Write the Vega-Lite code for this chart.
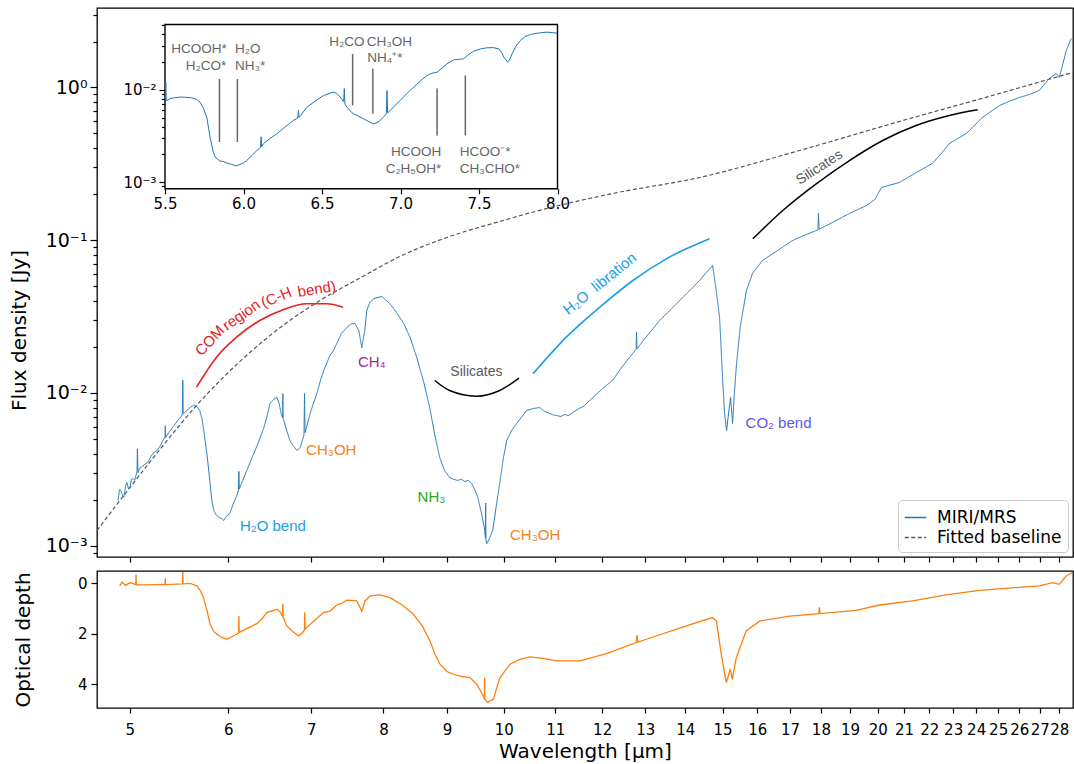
{
"$schema":"https://vega.github.io/schema/vega-lite/v6.json",
"padding":{"left":8,"top":7,"right":0,"bottom":0},
"spacing":4,
"config":{"view":{"stroke":"#000","strokeWidth":1.3},"axis":{"labelFont":"DejaVu Sans","titleFont":"DejaVu Sans","titleFontWeight":"normal","labelColor":"#000","titleColor":"#000","tickColor":"#000","tickWidth":1.2,"grid":false,"domain":false},"text":{"font":"Liberation Sans"}},
"resolve":{"scale":{"color":"independent","strokeDash":"independent"},"legend":{"color":"independent","strokeDash":"independent"}},
"vconcat":[
{"width":976,"height":549,
"resolve":{"scale":{"x":"independent","y":"independent"}},
"layer":[
{"resolve":{"axis":{"y":"independent"}},
"layer":[
{"encoding":{
"x":{"field":"w","type":"quantitative","scale":{"type":"log","domain":[4.705,28.72],"nice":false},"axis":{"orient":"bottom","values":[5,6,7,8,9,10,11,12,13,14,15,16,17,18,19,20,21,22,23,24,25,26,27,28],"labels":false,"tickSize":5,"title":null}},
"y":{"field":"f","type":"quantitative","scale":{"type":"log","domain":[0.000842,3.316],"nice":false},"axis":{"orient":"left","values":[0.001,0.01,0.1,1],"labelExpr":"datum.value >= 0.99 ? '10⁰' : datum.value >= 0.099 ? '10⁻¹' : datum.value >= 0.0099 ? '10⁻²' : '10⁻³'","tickSize":7,"labelPadding":3,"labelFontSize":19,"title":"Flux density [Jy]","titleFontSize":20,"titlePadding":13,"minExtent":55,"maxExtent":55,"titleY":322}}},
"layer":[
{"data":{"values":[{"w":4.705,"f":0.001256},{"w":5.001,"f":0.002401},{"w":5.287,"f":0.004259},{"w":5.63,"f":0.0079},{"w":6.246,"f":0.01839},{"w":6.641,"f":0.02763},{"w":7.071,"f":0.03908},{"w":7.7,"f":0.05785},{"w":8.247,"f":0.0782},{"w":9.046,"f":0.1057},{"w":9.924,"f":0.1326},{"w":10.828,"f":0.1613},{"w":12.237,"f":0.2022},{"w":14.375,"f":0.2574},{"w":17.301,"f":0.3868},{"w":20.818,"f":0.5989},{"w":25.058,"f":0.9136},{"w":28.69,"f":1.254}]},
"mark":{"type":"line","strokeWidth":1.2,"interpolate":"monotone"},
"encoding":{"color":{"datum":"Fitted baseline","type":"nominal","scale":{"domain":["MIRI/MRS","Fitted baseline"],"range":["#1f77b4","#555555"]},"legend":{"title":null,"orient":"bottom-right","offset":5,"labelFont":"DejaVu Sans","labelFontSize":17,"labelColor":"#000","symbolType":"stroke","symbolSize":460,"symbolStrokeWidth":1.3,"strokeColor":"#cccccc","fillColor":"#ffffff","padding":6,"cornerRadius":4,"rowPadding":0,"labelOffset":10}},
"strokeDash":{"datum":"Fitted baseline","type":"nominal","scale":{"domain":["MIRI/MRS","Fitted baseline"],"range":[[1,0],[4,2.5]]},"legend":{"title":null,"orient":"bottom-right","offset":5,"labelFont":"DejaVu Sans","labelFontSize":17,"labelColor":"#000","symbolType":"stroke","symbolSize":460,"symbolStrokeWidth":1.3,"strokeColor":"#cccccc","fillColor":"#ffffff","padding":6,"cornerRadius":4,"rowPadding":0,"labelOffset":10}}}},
{"data":{"values":[{"w":4.892,"f":0.00197},{"w":4.905,"f":0.00232},{"w":4.918,"f":0.0023},{"w":4.932,"f":0.00215},{"w":4.945,"f":0.00207},{"w":4.96,"f":0.00245},{"w":4.973,"f":0.00259},{"w":4.987,"f":0.00236},{"w":5.001,"f":0.0024},{"w":5.015,"f":0.00272},{"w":5.029,"f":0.00275},{"w":5.047,"f":0.00268},{"w":5.067,"f":0.00306},{"w":5.071,"f":0.0043},{"w":5.076,"f":0.003},{"w":5.094,"f":0.00322},{"w":5.113,"f":0.0033},{"w":5.14,"f":0.0034},{"w":5.17,"f":0.0035},{"w":5.2,"f":0.00385},{"w":5.228,"f":0.00407},{"w":5.26,"f":0.0042},{"w":5.287,"f":0.00446},{"w":5.31,"f":0.0048},{"w":5.336,"f":0.0051},{"w":5.34,"f":0.0061},{"w":5.344,"f":0.0051},{"w":5.375,"f":0.0055},{"w":5.405,"f":0.00585},{"w":5.435,"f":0.0062},{"w":5.465,"f":0.0066},{"w":5.49,"f":0.0069},{"w":5.511,"f":0.00722},{"w":5.516,"f":0.0121},{"w":5.521,"f":0.0073},{"w":5.568,"f":0.00778},{"w":5.6,"f":0.0081},{"w":5.63,"f":0.00827},{"w":5.665,"f":0.0081},{"w":5.692,"f":0.00767},{"w":5.715,"f":0.0068},{"w":5.735,"f":0.00567},{"w":5.77,"f":0.0039},{"w":5.799,"f":0.00267},{"w":5.82,"f":0.002},{"w":5.842,"f":0.0017},{"w":5.865,"f":0.0016},{"w":5.886,"f":0.00155},{"w":5.905,"f":0.00152},{"w":5.929,"f":0.0015},{"w":5.952,"f":0.00146},{"w":5.984,"f":0.00157},{"w":6.018,"f":0.00162},{"w":6.06,"f":0.0019},{"w":6.1,"f":0.00215},{"w":6.115,"f":0.0023},{"w":6.12,"f":0.00306},{"w":6.125,"f":0.00235},{"w":6.131,"f":0.0024},{"w":6.21,"f":0.0031},{"w":6.292,"f":0.00401},{"w":6.35,"f":0.0048},{"w":6.411,"f":0.00593},{"w":6.45,"f":0.0071},{"w":6.483,"f":0.00853},{"w":6.53,"f":0.0091},{"w":6.568,"f":0.00933},{"w":6.595,"f":0.0085},{"w":6.616,"f":0.00744},{"w":6.635,"f":0.0069},{"w":6.64,"f":0.0099},{"w":6.645,"f":0.0067},{"w":6.653,"f":0.00659},{"w":6.69,"f":0.0056},{"w":6.727,"f":0.00488},{"w":6.77,"f":0.0045},{"w":6.815,"f":0.0042},{"w":6.858,"f":0.00439},{"w":6.905,"f":0.0053},{"w":6.912,"f":0.0099},{"w":6.919,"f":0.0055},{"w":6.99,"f":0.0075},{"w":7.071,"f":0.00991},{"w":7.12,"f":0.0121},{"w":7.163,"f":0.014},{"w":7.2,"f":0.0155},{"w":7.244,"f":0.01758},{"w":7.29,"f":0.0188},{"w":7.338,"f":0.0211},{"w":7.4,"f":0.0245},{"w":7.475,"f":0.0268},{"w":7.53,"f":0.0282},{"w":7.587,"f":0.0285},{"w":7.644,"f":0.0256},{"w":7.686,"f":0.0198},{"w":7.729,"f":0.0256},{"w":7.758,"f":0.0347},{"w":7.8,"f":0.039},{"w":7.859,"f":0.0415},{"w":7.976,"f":0.0428},{"w":8.095,"f":0.0385},{"w":8.2,"f":0.0335},{"w":8.308,"f":0.0285},{"w":8.41,"f":0.0228},{"w":8.51,"f":0.0171},{"w":8.62,"f":0.0118},{"w":8.717,"f":0.00802},{"w":8.8,"f":0.0053},{"w":8.88,"f":0.00378},{"w":8.96,"f":0.0031},{"w":9.046,"f":0.00279},{"w":9.11,"f":0.00272},{"w":9.182,"f":0.00267},{"w":9.24,"f":0.00272},{"w":9.301,"f":0.00263},{"w":9.36,"f":0.00268},{"w":9.423,"f":0.00255},{"w":9.48,"f":0.0023},{"w":9.528,"f":0.00207},{"w":9.6,"f":0.0016},{"w":9.653,"f":0.00126},{"w":9.665,"f":0.00112},{"w":9.67,"f":0.0019},{"w":9.675,"f":0.00108},{"w":9.689,"f":0.00103},{"w":9.74,"f":0.00112},{"w":9.797,"f":0.00126},{"w":9.86,"f":0.0018},{"w":9.924,"f":0.00255},{"w":9.99,"f":0.0037},{"w":10.054,"f":0.00488},{"w":10.15,"f":0.0057},{"w":10.242,"f":0.00631},{"w":10.433,"f":0.00767},{"w":10.56,"f":0.0079},{"w":10.688,"f":0.00802},{"w":10.77,"f":0.0076},{"w":10.849,"f":0.00744},{"w":10.94,"f":0.0072},{"w":11.03,"f":0.00711},{"w":11.11,"f":0.0070},{"w":11.194,"f":0.00722},{"w":11.28,"f":0.0071},{"w":11.361,"f":0.00744},{"w":11.5,"f":0.0079},{"w":11.6,"f":0.0082},{"w":11.725,"f":0.00891},{"w":12.013,"f":0.01069},{"w":12.237,"f":0.0121},{"w":12.45,"f":0.0148},{"w":12.698,"f":0.0181},{"w":12.78,"f":0.0193},{"w":12.79,"f":0.025},{"w":12.8,"f":0.0195},{"w":13.05,"f":0.0238},{"w":13.349,"f":0.0298},{"w":13.63,"f":0.0352},{"w":13.93,"f":0.0421},{"w":14.15,"f":0.0478},{"w":14.375,"f":0.0545},{"w":14.55,"f":0.0612},{"w":14.725,"f":0.0683},{"w":14.8,"f":0.052},{"w":14.918,"f":0.0312},{"w":15.0,"f":0.0125},{"w":15.057,"f":0.00733},{"w":15.112,"f":0.00567},{"w":15.17,"f":0.0074},{"w":15.225,"f":0.00933},{"w":15.281,"f":0.00631},{"w":15.33,"f":0.0098},{"w":15.395,"f":0.0156},{"w":15.5,"f":0.027},{"w":15.68,"f":0.0469},{"w":15.856,"f":0.0605},{"w":16.152,"f":0.0736},{"w":16.61,"f":0.0856},{"w":17.077,"f":0.0995},{"w":17.45,"f":0.1075},{"w":17.853,"f":0.1158},{"w":17.9,"f":0.117},{"w":17.92,"f":0.15},{"w":17.94,"f":0.118},{"w":18.4,"f":0.131},{"w":18.977,"f":0.1496},{"w":19.584,"f":0.1687},{"w":19.9,"f":0.185},{"w":20.135,"f":0.2213},{"w":20.818,"f":0.2388},{"w":21.483,"f":0.2775},{"w":22.13,"f":0.318},{"w":22.5,"f":0.37},{"w":22.839,"f":0.43},{"w":23.57,"f":0.4996},{"w":24.28,"f":0.636},{"w":25.058,"f":0.762},{"w":25.5,"f":0.81},{"w":25.996,"f":0.86},{"w":26.5,"f":0.9},{"w":26.978,"f":0.956},{"w":27.483,"f":1.145},{"w":27.843,"f":1.235},{"w":27.998,"f":1.163},{"w":28.2,"f":1.45},{"w":28.363,"f":1.747},{"w":28.627,"f":2.094}]},
"mark":{"type":"line","strokeWidth":1},
"encoding":{"color":{"datum":"MIRI/MRS","type":"nominal","scale":{"domain":["MIRI/MRS","Fitted baseline"],"range":["#1f77b4","#555555"]},"legend":{"title":null,"orient":"bottom-right","offset":5,"labelFont":"DejaVu Sans","labelFontSize":17,"labelColor":"#000","symbolType":"stroke","symbolSize":460,"symbolStrokeWidth":1.3,"strokeColor":"#cccccc","fillColor":"#ffffff","padding":6,"cornerRadius":4,"rowPadding":0,"labelOffset":10}},
"strokeDash":{"datum":"MIRI/MRS","type":"nominal","scale":{"domain":["MIRI/MRS","Fitted baseline"],"range":[[1,0],[4,2.5]]},"legend":{"title":null,"orient":"bottom-right","offset":5,"labelFont":"DejaVu Sans","labelFontSize":17,"labelColor":"#000","symbolType":"stroke","symbolSize":460,"symbolStrokeWidth":1.3,"strokeColor":"#cccccc","fillColor":"#ffffff","padding":6,"cornerRadius":4,"rowPadding":0,"labelOffset":10}}}},
{"data":{"values":[{"w":5.658,"f":0.0109},{"w":5.872,"f":0.01713},{"w":6.094,"f":0.02317},{"w":6.362,"f":0.02979},{"w":6.643,"f":0.03501},{"w":6.938,"f":0.03834},{"w":7.2,"f":0.03834},{"w":7.424,"f":0.0364}]},
"mark":{"type":"line","color":"#e8201e","strokeWidth":1.6,"interpolate":"monotone"}},
{"data":{"values":[{"w":8.798,"f":0.01206},{"w":9.046,"f":0.01037},{"w":9.505,"f":0.00952},{"w":9.924,"f":0.01037},{"w":10.286,"f":0.01248}]},
"mark":{"type":"line","color":"#000","strokeWidth":1.5,"interpolate":"monotone"}},
{"data":{"values":[{"w":10.556,"f":0.01334},{"w":11.229,"f":0.02317},{"w":11.947,"f":0.0364},{"w":12.705,"f":0.05445},{"w":13.516,"f":0.0755},{"w":14.644,"f":0.1021}]},
"mark":{"type":"line","color":"#1a9ee6","strokeWidth":1.6,"interpolate":"monotone"}},
{"data":{"values":[{"w":15.865,"f":0.1021},{"w":16.771,"f":0.1565},{"w":17.843,"f":0.2341},{"w":18.977,"f":0.3325},{"w":20.184,"f":0.4497},{"w":21.471,"f":0.5639},{"w":22.839,"f":0.6557},{"w":24.07,"f":0.7145}]},
"mark":{"type":"line","color":"#000","strokeWidth":1.5,"interpolate":"monotone"}},
{"data":{"values":[{"w":5.799,"f":0.022,"t":"COM"}]},"mark":{"type":"text","angle":313,"color":"#e8201e","fontSize":15},"encoding":{"text":{"field":"t"}}},
{"data":{"values":[{"w":6.148,"f":0.0324,"t":"region"}]},"mark":{"type":"text","angle":325,"color":"#e8201e","fontSize":15},"encoding":{"text":{"field":"t"}}},
{"data":{"values":[{"w":6.56,"f":0.04233,"t":"(C-H"}]},"mark":{"type":"text","angle":338,"color":"#e8201e","fontSize":15},"encoding":{"text":{"field":"t"}}},
{"data":{"values":[{"w":7.071,"f":0.04791,"t":"bend)"}]},"mark":{"type":"text","angle":351,"color":"#e8201e","fontSize":15},"encoding":{"text":{"field":"t"}}},
{"data":{"values":[{"w":11.947,"f":0.052,"t":"H₂O\u00a0\u00a0libration"}]},"mark":{"type":"text","angle":321,"color":"#1a9ee6","fontSize":15},"encoding":{"text":{"field":"t"}}},
{"data":{"values":[{"w":17.952,"f":0.299,"t":"Silicates"}]},"mark":{"type":"text","angle":327,"color":"#595959","fontSize":14},"encoding":{"text":{"field":"t"}}},
{"data":{"values":[{"w":9.505,"f":0.0138,"t":"Silicates"}]},"mark":{"type":"text","color":"#595959","fontSize":14},"encoding":{"text":{"field":"t"}}},
{"data":{"values":[{"w":6.519,"f":0.00134,"t":"H₂O bend"}]},"mark":{"type":"text","color":"#1a9ee6","fontSize":15},"encoding":{"text":{"field":"t"}}},
{"data":{"values":[{"w":7.263,"f":0.0042,"t":"CH₃OH"},{"w":10.599,"f":0.00118,"t":"CH₃OH"}]},"mark":{"type":"text","color":"#f58220","fontSize":15},"encoding":{"text":{"field":"t"}}},
{"data":{"values":[{"w":7.83,"f":0.0159,"t":"CH₄"}]},"mark":{"type":"text","color":"#982e99","fontSize":15},"encoding":{"text":{"field":"t"}}},
{"data":{"values":[{"w":8.745,"f":0.00207,"t":"NH₃"}]},"mark":{"type":"text","color":"#22aa22","fontSize":15},"encoding":{"text":{"field":"t"}}},
{"data":{"values":[{"w":16.64,"f":0.00635,"t":"CO₂ bend"}]},"mark":{"type":"text","color":"#5a5ae6","fontSize":15},"encoding":{"text":{"field":"t"}}}
]},
{"data":{"values":[{"f":0.0024},{"f":0.1}]},
"mark":{"type":"point","opacity":0},
"encoding":{
"y":{"field":"f","type":"quantitative","scale":{"type":"log","domain":[0.000842,3.316],"nice":false},"axis":{"orient":"left","values":[0.0009,0.002,0.003,0.004,0.005,0.006,0.007,0.008,0.009,0.02,0.03,0.04,0.05,0.06,0.07,0.08,0.09,0.2,0.3,0.4,0.5,0.6,0.7,0.8,0.9,2,3],"labels":false,"tickSize":4,"title":null}}}}
]},
{"resolve":{"axis":{"y":"independent"}},
"layer":[
{"encoding":{
"x":{"field":"w","type":"quantitative","scale":{"domain":[5.5,8.0],"range":[68,460.5],"nice":false,"zero":false},"axis":{"orient":"bottom","offset":-368.2,"values":[5.5,6,6.5,7,7.5,8],"format":".1f","tickSize":5,"labelFontSize":15,"labelPadding":3,"labelFlush":false,"labelOverlap":false,"title":null}},
"y":{"field":"f","type":"quantitative","scale":{"type":"log","domain":[0.000848,0.0509],"range":[180.8,16.5],"nice":false},"axis":{"orient":"left","offset":-68,"values":[0.001,0.01],"labelExpr":"datum.value >= 0.0099 ? '10⁻²' : '10⁻³'","tickSize":6,"labelFontSize":15,"labelPadding":3,"title":null}}},
"layer":[
{"data":{"values":[{"w":5.5,"w2":8.0,"f":0.000848,"f2":0.0509}]},"mark":{"type":"rect","fill":"#ffffff","stroke":"#000","strokeWidth":1.4},"encoding":{"x2":{"field":"w2"},"y2":{"field":"f2"}}},
{"data":{"values":[{"w":5.502,"f":0.0078},{"w":5.505,"f":0.0121},{"w":5.508,"f":0.0076},{"w":5.532,"f":0.008},{"w":5.56,"f":0.0082},{"w":5.596,"f":0.00834},{"w":5.63,"f":0.0083},{"w":5.67,"f":0.00819},{"w":5.7,"f":0.0079},{"w":5.723,"f":0.00736},{"w":5.745,"f":0.0063},{"w":5.766,"f":0.00506},{"w":5.787,"f":0.00308},{"w":5.805,"f":0.0022},{"w":5.819,"f":0.00187},{"w":5.851,"f":0.00169},{"w":5.87,"f":0.00168},{"w":5.89,"f":0.00162},{"w":5.91,"f":0.00158},{"w":5.925,"f":0.00156},{"w":5.95,"f":0.0015},{"w":5.978,"f":0.00156},{"w":6.0,"f":0.00162},{"w":6.021,"f":0.00172},{"w":6.05,"f":0.00192},{"w":6.085,"f":0.0022},{"w":6.108,"f":0.00238},{"w":6.112,"f":0.0031},{"w":6.116,"f":0.00242},{"w":6.127,"f":0.00261},{"w":6.17,"f":0.00298},{"w":6.212,"f":0.00334},{"w":6.26,"f":0.0039},{"w":6.318,"f":0.00466},{"w":6.346,"f":0.00495},{"w":6.35,"f":0.006},{"w":6.354,"f":0.005},{"w":6.404,"f":0.00649},{"w":6.457,"f":0.00754},{"w":6.51,"f":0.00868},{"w":6.545,"f":0.0091},{"w":6.574,"f":0.00944},{"w":6.595,"f":0.0091},{"w":6.616,"f":0.00834},{"w":6.638,"f":0.0074},{"w":6.642,"f":0.0103},{"w":6.646,"f":0.007},{"w":6.659,"f":0.00649},{"w":6.68,"f":0.0059},{"w":6.701,"f":0.00549},{"w":6.73,"f":0.0052},{"w":6.765,"f":0.00485},{"w":6.8,"f":0.0045},{"w":6.829,"f":0.00428},{"w":6.85,"f":0.0044},{"w":6.871,"f":0.00466},{"w":6.91,"f":0.0055},{"w":6.914,"f":0.0098},{"w":6.918,"f":0.00565},{"w":6.935,"f":0.00597},{"w":6.965,"f":0.0068},{"w":6.999,"f":0.00767},{"w":7.04,"f":0.0091},{"w":7.084,"f":0.0107},{"w":7.13,"f":0.0126},{"w":7.169,"f":0.0143},{"w":7.2,"f":0.0151},{"w":7.233,"f":0.0155},{"w":7.265,"f":0.0172},{"w":7.296,"f":0.0191},{"w":7.339,"f":0.0211},{"w":7.37,"f":0.0213},{"w":7.403,"f":0.0217},{"w":7.43,"f":0.0238},{"w":7.466,"f":0.0262},{"w":7.51,"f":0.0277},{"w":7.551,"f":0.0285},{"w":7.59,"f":0.0286},{"w":7.626,"f":0.0278},{"w":7.645,"f":0.0252},{"w":7.658,"f":0.0226},{"w":7.683,"f":0.0199},{"w":7.697,"f":0.0215},{"w":7.711,"f":0.0246},{"w":7.735,"f":0.0295},{"w":7.764,"f":0.0342},{"w":7.795,"f":0.0378},{"w":7.828,"f":0.0397},{"w":7.88,"f":0.0412},{"w":7.934,"f":0.0421},{"w":7.998,"f":0.041}]},
"mark":{"type":"line","color":"#1f77b4","strokeWidth":1}},
{"data":{"values":[{"w":5.847,"f":0.00272,"f2":0.0131},{"w":5.961,"f":0.00272,"f2":0.0131},{"w":6.695,"f":0.00677,"f2":0.0245},{"w":6.824,"f":0.00549,"f2":0.0169},{"w":7.233,"f":0.00321,"f2":0.0103},{"w":7.413,"f":0.00321,"f2":0.0143}]},
"mark":{"type":"rule","color":"#666666","strokeWidth":1.5},"encoding":{"y2":{"field":"f2"}}},
{"data":{"values":[{"w":5.893,"f":0.0278,"t":"HCOOH*"},{"w":5.89,"f":0.0183,"t":"H₂CO*"},{"w":7.26,"f":0.00211,"t":"HCOOH"},{"w":7.26,"f":0.0014,"t":"C₂H₅OH*"}]},"mark":{"type":"text","align":"right","color":"#666666","fontSize":13.5},"encoding":{"text":{"field":"t"}}},
{"data":{"values":[{"w":5.946,"f":0.0278,"t":"H₂O"},{"w":5.946,"f":0.0183,"t":"NH₃*"},{"w":7.377,"f":0.00211,"t":"HCOO⁻*"},{"w":7.377,"f":0.0014,"t":"CH₃CHO*"}]},"mark":{"type":"text","align":"left","color":"#666666","fontSize":13.5},"encoding":{"text":{"field":"t"}}},
{"data":{"values":[{"w":6.659,"f":0.0333,"t":"H₂CO"},{"w":6.929,"f":0.0333,"t":"CH₃OH"},{"w":6.9,"f":0.022,"t":"NH₄⁺*"}]},"mark":{"type":"text","align":"center","color":"#666666","fontSize":13.5},"encoding":{"text":{"field":"t"}}}
]},
{"data":{"values":[{"f":0.002},{"f":0.01}]},
"mark":{"type":"point","opacity":0},
"encoding":{
"y":{"field":"f","type":"quantitative","scale":{"type":"log","domain":[0.000848,0.0509],"range":[180.8,16.5],"nice":false},"axis":{"orient":"left","offset":-68,"values":[0.0009,0.002,0.003,0.004,0.005,0.006,0.007,0.008,0.009,0.02,0.03,0.04,0.05],"labels":false,"tickSize":3.5,"title":null}}}}
]}
]},
{"width":976,"height":137,
"data":{"values":[{"w":4.907,"tau":0.1},{"w":4.93,"tau":-0.05},{"w":4.96,"tau":0.08},{"w":5.004,"tau":-0.03},{"w":5.055,"tau":0.05},{"w":5.058,"tau":-0.35},{"w":5.061,"tau":0.05},{"w":5.15,"tau":0.06},{"w":5.323,"tau":0.04},{"w":5.337,"tau":0.05},{"w":5.34,"tau":-0.2},{"w":5.343,"tau":0.05},{"w":5.45,"tau":0.03},{"w":5.513,"tau":0.02},{"w":5.516,"tau":-0.45},{"w":5.519,"tau":0.02},{"w":5.592,"tau":0.0},{"w":5.662,"tau":0.1},{"w":5.7,"tau":0.3},{"w":5.732,"tau":0.57},{"w":5.77,"tau":1.1},{"w":5.803,"tau":1.63},{"w":5.84,"tau":1.9},{"w":5.875,"tau":2.02},{"w":5.93,"tau":2.15},{"w":5.984,"tau":2.22},{"w":6.04,"tau":2.12},{"w":6.097,"tau":2.02},{"w":6.117,"tau":1.97},{"w":6.12,"tau":1.3},{"w":6.123,"tau":1.95},{"w":6.21,"tau":1.8},{"w":6.327,"tau":1.6},{"w":6.39,"tau":1.4},{"w":6.445,"tau":1.16},{"w":6.568,"tau":1.03},{"w":6.61,"tau":1.15},{"w":6.636,"tau":1.3},{"w":6.64,"tau":0.8},{"w":6.644,"tau":1.35},{"w":6.689,"tau":1.69},{"w":6.76,"tau":1.9},{"w":6.836,"tau":2.09},{"w":6.88,"tau":1.98},{"w":6.911,"tau":1.85},{"w":6.915,"tau":1.15},{"w":6.919,"tau":1.82},{"w":6.984,"tau":1.63},{"w":7.07,"tau":1.4},{"w":7.159,"tau":1.16},{"w":7.247,"tau":1.1},{"w":7.338,"tau":0.86},{"w":7.4,"tau":0.8},{"w":7.475,"tau":0.67},{"w":7.615,"tau":0.7},{"w":7.686,"tau":1.1},{"w":7.733,"tau":0.7},{"w":7.805,"tau":0.5},{"w":7.951,"tau":0.46},{"w":8.1,"tau":0.57},{"w":8.28,"tau":0.85},{"w":8.458,"tau":1.23},{"w":8.6,"tau":1.7},{"w":8.722,"tau":2.29},{"w":8.8,"tau":2.8},{"w":8.885,"tau":3.21},{"w":9.0,"tau":3.5},{"w":9.109,"tau":3.61},{"w":9.25,"tau":3.7},{"w":9.393,"tau":3.74},{"w":9.51,"tau":4.0},{"w":9.629,"tau":4.47},{"w":9.648,"tau":4.6},{"w":9.651,"tau":3.75},{"w":9.654,"tau":4.6},{"w":9.701,"tau":4.73},{"w":9.809,"tau":4.6},{"w":9.87,"tau":4.15},{"w":9.93,"tau":3.74},{"w":10.116,"tau":3.21},{"w":10.3,"tau":3.02},{"w":10.497,"tau":2.92},{"w":10.75,"tau":2.98},{"w":11.03,"tau":3.08},{"w":11.516,"tau":3.08},{"w":12.095,"tau":2.79},{"w":12.78,"tau":2.35},{"w":12.8,"tau":2.05},{"w":12.82,"tau":2.33},{"w":13.025,"tau":2.22},{"w":14.025,"tau":1.69},{"w":14.72,"tau":1.36},{"w":14.83,"tau":1.5},{"w":14.965,"tau":2.82},{"w":15.104,"tau":3.94},{"w":15.216,"tau":3.41},{"w":15.273,"tau":3.81},{"w":15.387,"tau":2.95},{"w":15.67,"tau":1.89},{"w":16.067,"tau":1.5},{"w":16.982,"tau":1.3},{"w":17.93,"tau":1.2},{"w":17.95,"tau":0.95},{"w":17.97,"tau":1.2},{"w":19.214,"tau":1.07},{"w":20.061,"tau":0.86},{"w":21.336,"tau":0.7},{"w":22.7,"tau":0.46},{"w":24.146,"tau":0.28},{"w":25.37,"tau":0.2},{"w":26.978,"tau":0.1},{"w":27.665,"tau":-0.03},{"w":27.998,"tau":0.04},{"w":28.36,"tau":-0.29},{"w":28.68,"tau":-0.42}]},
"mark":{"type":"line","color":"#ff7f0e","strokeWidth":1.3},
"encoding":{
"x":{"field":"w","type":"quantitative","scale":{"type":"log","domain":[4.705,28.72],"nice":false},"axis":{"orient":"bottom","values":[5,6,7,8,9,10,11,12,13,14,15,16,17,18,19,20,21,22,23,24,25,26,27,28],"format":"d","tickSize":5,"labelPadding":9,"labelFontSize":15,"labelFlush":false,"labelOverlap":false,"title":"Wavelength [μm]","titleFontSize":20,"titlePadding":4}},
"y":{"field":"tau","type":"quantitative","scale":{"domain":[-0.49,4.95],"reverse":true,"nice":false,"zero":false},"axis":{"values":[0,2,4],"tickSize":6,"labelPadding":4,"labelFontSize":15,"title":"Optical depth","titleFontSize":20,"titlePadding":9,"minExtent":55,"maxExtent":55}}}}
]
}
